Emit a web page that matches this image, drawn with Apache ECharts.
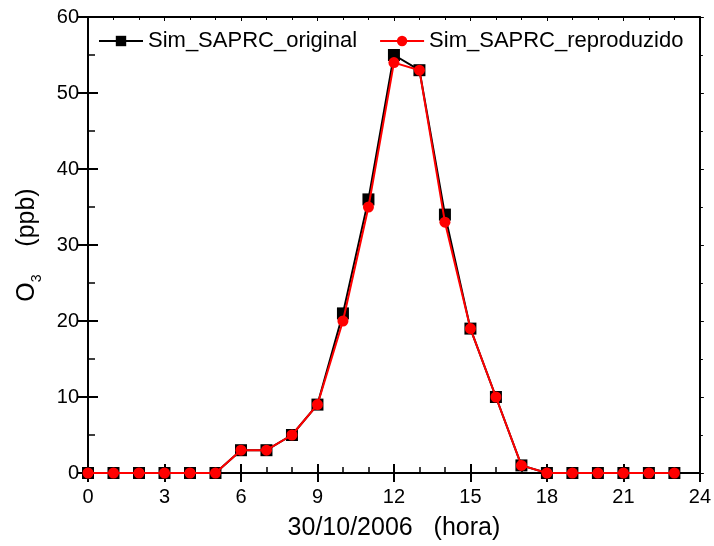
<!DOCTYPE html>
<html>
<head>
<meta charset="utf-8">
<script src="https://cdn.jsdelivr.net/npm/echarts@6/dist/echarts.min.js"></script>
<style>
  html, body { margin: 0; padding: 0; background: #fff; }
  #chart { width: 714px; height: 546px; }
</style>
</head>
<body>
<div id="chart"></div>
<script>
// Hour of day, 30/10/2006
const hours = [0, 1, 2, 3, 4, 5, 6, 7, 8, 9, 10, 11, 12, 13, 14, 15, 16, 17, 18, 19, 20, 21, 22, 23];
// Simulated O3 (ppb)
const simOriginal    = [0, 0, 0, 0, 0, 0, 3, 3, 5, 9, 21, 36, 55, 53, 34, 19, 10, 1, 0, 0, 0, 0, 0, 0];
const simReproduzido = [0, 0, 0, 0, 0, 0, 3, 3, 5, 9, 20, 35, 54, 53, 33, 19, 10, 1, 0, 0, 0, 0, 0, 0];
const seriesNames = ['Sim_SAPRC_original', 'Sim_SAPRC_reproduzido'];

const FONT = 'Liberation Sans, Arial, sans-serif';
const pairs = vals => hours.map((h, i) => [h, vals[i]]);

const xBase = { type: 'value', min: 0, max: 24, interval: 3, splitLine: { show: false } };
const yBase = { type: 'value', min: 0, max: 60, interval: 10, splitLine: { show: false } };
const line = { show: true, onZero: false, lineStyle: { color: '#000', width: 2 } };

const chart = echarts.init(document.getElementById('chart'));
chart.setOption({
  animation: false,
  backgroundColor: '#fff',
  textStyle: { fontFamily: FONT },
  grid: { left: 88, right: 13, top: 17, bottom: 72 },
  legend: {
    data: seriesNames,
    left: 93, top: 25,
    itemWidth: 44, itemHeight: 13, itemGap: 22,
    textStyle: { fontFamily: FONT, fontSize: 22, color: '#000' }
  },
  xAxis: [
    Object.assign({}, xBase, {
      position: 'bottom', axisLine: line,
      axisTick: { show: true, inside: false, length: 9, lineStyle: { color: '#000', width: 2 } },
      axisLabel: { fontFamily: FONT, fontSize: 20, color: '#000', margin: 14 },
      name: '30/10/2006   (hora)', nameLocation: 'middle', nameGap: 43,
      nameTextStyle: { fontFamily: FONT, fontSize: 25, color: '#000' }
    }),
    Object.assign({}, xBase, {
      position: 'bottom', axisLine: line,
      axisTick: { show: true, inside: true, length: 9, lineStyle: { color: '#000', width: 2 } },
      minorTick: { show: true, splitNumber: 3, length: 6, lineStyle: { color: '#000', width: 1.5 } },
      axisLabel: { show: false }
    }),
    Object.assign({}, xBase, {
      position: 'top', axisLine: line,
      axisTick: { show: true, inside: true, length: 4, lineStyle: { color: '#000', width: 1 } },
      minorTick: { show: true, splitNumber: 3, length: 3, lineStyle: { color: '#000', width: 1 } },
      axisLabel: { show: false }
    })
  ],
  yAxis: [
    Object.assign({}, yBase, {
      position: 'left', axisLine: line,
      axisTick: { show: true, inside: false, length: 11, lineStyle: { color: '#000', width: 2 } },
      axisLabel: { fontFamily: FONT, fontSize: 20, color: '#000', margin: 9 },
      name: '{a|O}{s|3}{a|    (ppb)}', nameLocation: 'middle', nameGap: 44,
      nameTextStyle: {
        fontFamily: FONT, color: '#000',
        rich: {
          a: { fontFamily: FONT, fontSize: 25, color: '#000', lineHeight: 34, verticalAlign: 'middle' },
          s: { fontFamily: FONT, fontSize: 14, color: '#000', lineHeight: 34, verticalAlign: 'bottom', padding: [10, 0, 0, 0] }
        }
      }
    }),
    Object.assign({}, yBase, {
      position: 'left', axisLine: line,
      axisTick: { show: true, inside: true, length: 10, lineStyle: { color: '#000', width: 2 } },
      minorTick: { show: true, splitNumber: 2, length: 7, lineStyle: { color: '#000', width: 1.5 } },
      axisLabel: { show: false }
    }),
    Object.assign({}, yBase, {
      position: 'right', axisLine: line,
      axisTick: { show: true, inside: false, length: 4, lineStyle: { color: '#000', width: 1 } },
      minorTick: { show: true, splitNumber: 2, length: 3, lineStyle: { color: '#000', width: 1 } },
      axisLabel: { show: false }
    })
  ],
  series: [
    {
      name: seriesNames[0], type: 'line', xAxisIndex: 0, yAxisIndex: 0,
      data: pairs(simOriginal),
      symbol: 'rect', symbolSize: 12, showAllSymbol: true,
      itemStyle: { color: '#000' },
      lineStyle: { color: '#000', width: 2 },
      z: 2
    },
    {
      name: seriesNames[1], type: 'line', xAxisIndex: 0, yAxisIndex: 0,
      data: pairs(simReproduzido),
      symbol: 'circle', symbolSize: 11, showAllSymbol: true,
      itemStyle: { color: '#ff0000' },
      lineStyle: { color: '#ff0000', width: 2 },
      z: 3
    }
  ]
});
</script>
</body>
</html>
